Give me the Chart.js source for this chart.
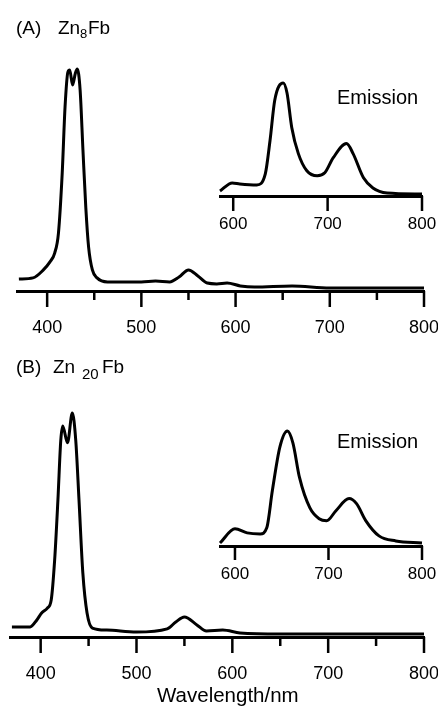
<!DOCTYPE html>
<html>
<head>
<meta charset="utf-8">
<script src="https://cdn.jsdelivr.net/npm/chart.js@4/dist/chart.umd.min.js"></script>
<style>
html,body{margin:0;padding:0;background:#fff;width:438px;height:706px;overflow:hidden;}
canvas{position:absolute;left:0;top:0;}
.t{position:absolute;font-family:"Liberation Sans",Arial,sans-serif;color:#000;line-height:1;white-space:nowrap;}
</style>
</head>
<body>
<canvas id="absA" width="460" height="706"></canvas>
<canvas id="emA" width="460" height="706"></canvas>
<canvas id="absB" width="460" height="706"></canvas>
<canvas id="emB" width="460" height="706"></canvas>

<div class="t" style="left:16px;top:18px;font-size:19px">(A)</div>
<div class="t" style="left:58px;top:18px;font-size:19px">Zn</div>
<div class="t" style="left:80px;top:27px;font-size:13px">8</div>
<div class="t" style="left:88px;top:18px;font-size:19px">Fb</div>
<div class="t" style="left:337px;top:87px;font-size:20px">Emission</div>

<div class="t" style="left:16px;top:357px;font-size:19px">(B)</div>
<div class="t" style="left:53px;top:357px;font-size:19px">Zn</div>
<div class="t" style="left:82px;top:366px;font-size:15px">20</div>
<div class="t" style="left:102px;top:357px;font-size:19px">Fb</div>
<div class="t" style="left:337px;top:431px;font-size:20px">Emission</div>

<div class="t" style="left:157px;top:685px;font-size:20.5px">Wavelength/nm</div>

<script>
// absorption (A) Zn8Fb
const absA_nm=[370,385,396,403,408,412,416,419,422,424,427,430,432,435,438,441,444,448,453,464,480,500,515,530,540,550,560,570,580,591,605,620,660,700,800];
const absA_val=[0.054,0.059,0.095,0.131,0.171,0.261,0.532,0.829,0.986,0.995,0.928,0.982,1.0,0.905,0.635,0.378,0.198,0.095,0.059,0.041,0.041,0.041,0.045,0.041,0.063,0.095,0.068,0.036,0.032,0.036,0.023,0.018,0.023,0.014,0.014];
// emission (A)
const emA_nm=[586,599,607,625,634,639,644,653,657,662,669,678,689,697,706,720,727,738,748,763,800];
const emA_val=[0.045,0.116,0.107,0.098,0.196,0.491,0.848,1.0,0.911,0.607,0.375,0.223,0.179,0.205,0.339,0.464,0.375,0.161,0.071,0.027,0.018];
// absorption (B) Zn20Fb
const absB_nm=[370,389,396,401,407,411,414.6,418,421,423,428,433,436.6,440,444,448.4,454,469,500,532,541,550,563,573,590,608,650,800];
const absB_val=[0.045,0.045,0.076,0.107,0.129,0.165,0.344,0.612,0.879,0.942,0.867,1.0,0.879,0.612,0.286,0.107,0.040,0.031,0.022,0.036,0.067,0.089,0.054,0.027,0.031,0.018,0.013,0.013];
// emission (B)
const emB_nm=[584,600,613,627,634,640,648,656,662,669,680,690,698,708,722,730,740,754,772,800];
const emB_val=[0.026,0.149,0.114,0.105,0.158,0.482,0.860,1.0,0.895,0.596,0.333,0.237,0.219,0.307,0.412,0.368,0.219,0.088,0.044,0.026];

const mainTicks=[400,500,600,700,800];
const mainMinor=[450,550,650,750];
const insetTicks=[600,700,800];
const AXIS_H=60;

const tickMarks={
  id:'tickMarks',
  afterDraw(chart,args,o){
    const s=chart.scales.x,ctx=chart.ctx,y=s.top;
    ctx.save(); ctx.strokeStyle='#000'; ctx.lineWidth=2.5;
    const mark=(v,len)=>{const x=s.getPixelForValue(v); ctx.beginPath(); ctx.moveTo(x,y); ctx.lineTo(x,y+len); ctx.stroke();};
    o.major.forEach(v=>mark(v,o.majorLen));
    (o.minor||[]).forEach(v=>mark(v,o.minorLen));
    ctx.restore();
  }
};

function spectrum(id,nm,vals,c){
  new Chart(document.getElementById(id),{
    type:'line',
    data:{datasets:[{data:nm.map((x,i)=>({x,y:vals[i]})),borderColor:'#000',borderWidth:3,pointRadius:0,cubicInterpolationMode:'monotone',fill:false,clip:false}]},
    options:{
      responsive:false,animation:false,
      layout:{padding:c.pad},
      plugins:{legend:{display:false},tooltip:{enabled:false},tickMarks:{major:c.ticks,minor:c.minor,majorLen:c.majorLen,minorLen:9}},
      scales:{
        x:{type:'linear',min:c.min,max:800,
          afterBuildTicks:s=>{s.ticks=c.ticks.map(v=>({value:v}));},
          afterFit:s=>{s.height=AXIS_H;},
          grid:{display:false},
          border:{display:true,color:'#000',width:3},
          ticks:{color:'#000',padding:c.lpad,maxRotation:0,autoSkip:false,font:{family:'"Liberation Sans", Arial, sans-serif',size:c.fs,lineHeight:1},callback:v=>String(v)}
        },
        y:{display:false,min:0,max:c.ymax}
      }
    },
    plugins:[tickMarks]
  });
}

spectrum('absA',absA_nm,absA_val,{pad:{left:17,right:36,top:40,bottom:706-291-AXIS_H},min:368,ymax:1.1306,ticks:mainTicks,minor:mainMinor,majorLen:16,fs:18,lpad:20});
spectrum('emA',emA_nm,emA_val,{pad:{left:220,right:38,top:70,bottom:706-196-AXIS_H},min:586,ymax:1.115,ticks:insetTicks,minor:[],majorLen:15,fs:17,lpad:12});
spectrum('absB',absB_nm,absB_val,{pad:{left:10,right:36,top:390,bottom:706-637-AXIS_H},min:368,ymax:1.1027,ticks:mainTicks,minor:mainMinor,majorLen:16,fs:18,lpad:20});
spectrum('emB',emB_nm,emB_val,{pad:{left:220,right:38,top:420,bottom:706-546-AXIS_H},min:584,ymax:1.0957,ticks:insetTicks,minor:[],majorLen:14,fs:17,lpad:12});
</script>
</body>
</html>
